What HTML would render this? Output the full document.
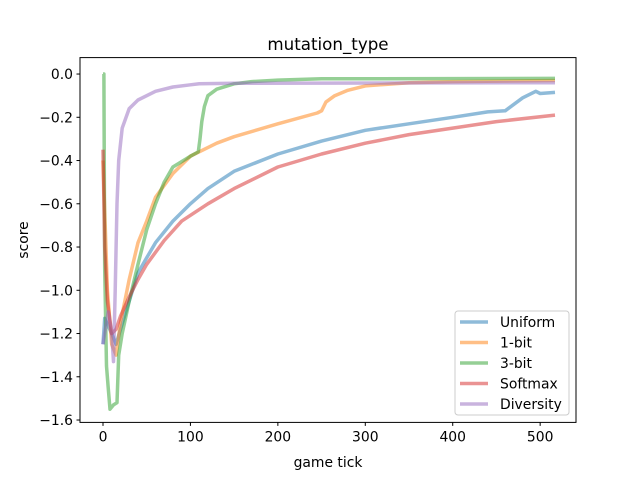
<!DOCTYPE html>
<html><head><meta charset="utf-8"><style>
body{margin:0;background:#fff}
text{font-family:"DejaVu Sans","Liberation Sans",sans-serif;fill:#000}
</style></head><body>
<svg id="chart" width="640" height="480">
<rect width="640" height="480" fill="#fff"/>
</svg>
<script>
const seriesNames=["Uniform","1-bit","3-bit","Softmax","Diversity"];
const xTicks=[0,100,200,300,400,500];
const yTicks=[0,-0.2,-0.4,-0.6,-0.8,-1.0,-1.2,-1.4,-1.6];
const uniformX=[0,2,10,15,20,30,40,50,60,80,100,120,150,200,250,300,350,400,440,460,480,495,500,517];
const uniformY=[-1.25,-1.13,-1.2,-1.25,-1.18,-1.05,-0.92,-0.85,-0.78,-0.68,-0.6,-0.53,-0.45,-0.37,-0.31,-0.26,-0.23,-0.2,-0.175,-0.17,-0.11,-0.08,-0.09,-0.085];
const oneBitX=[0,5,10,15,20,30,40,50,60,80,100,130,150,200,245,250,255,265,280,300,350,400,517];
const oneBitY=[-0.4,-1.0,-1.25,-1.3,-1.15,-0.95,-0.78,-0.68,-0.57,-0.46,-0.38,-0.32,-0.29,-0.23,-0.18,-0.17,-0.13,-0.1,-0.075,-0.055,-0.04,-0.035,-0.03];
const threeBitX=[0,1,2,4,6,8,12,16,18,22,30,40,50,60,70,80,100,109,111,113,116,120,130,150,170,200,250,517];
const threeBitY=[0,0,-0.9,-1.35,-1.45,-1.55,-1.53,-1.52,-1.3,-1.2,-1.05,-0.88,-0.72,-0.6,-0.5,-0.43,-0.38,-0.36,-0.3,-0.22,-0.15,-0.1,-0.07,-0.045,-0.035,-0.028,-0.022,-0.02];
const softmaxX=[0,2,5,10,15,20,30,40,50,70,90,120,150,200,250,300,350,400,450,517];
const softmaxY=[-0.35,-0.8,-1.05,-1.2,-1.18,-1.12,-1.03,-0.95,-0.88,-0.77,-0.68,-0.6,-0.53,-0.43,-0.37,-0.32,-0.28,-0.25,-0.22,-0.19];
const diversityX=[0,2,6,10,12,14,16,18,22,30,40,60,80,100,110,150,517];
const diversityY=[-1.25,-1.2,-1.1,-1.2,-1.33,-1.0,-0.6,-0.4,-0.25,-0.16,-0.12,-0.08,-0.06,-0.05,-0.045,-0.043,-0.04];

const svg=document.getElementById('chart');
const NS='http://www.w3.org/2000/svg';
const L=80,R=576,T=57.6,B=422.4;
const xmin=-26.3,xmax=541,ymin=-1.611,ymax=0.076;
const sx=v=>L+(v-xmin)/(xmax-xmin)*(R-L);
const sy=v=>B-(v-ymin)/(ymax-ymin)*(B-T);
function mk(tag,attrs,parent){const e=document.createElementNS(NS,tag);for(const k in attrs)e.setAttribute(k,attrs[k]);(parent||svg).appendChild(e);return e;}
const colors=["#1f77b4","#ff7f0e","#2ca02c","#d62728","#9467bd"];
const xs=[uniformX,oneBitX,threeBitX,softmaxX,diversityX];
const ys=[uniformY,oneBitY,threeBitY,softmaxY,diversityY];
const keys=["uniform","1-bit","3-bit","softmax","diversity"];
for(let s=0;s<5;s++){
  const d=xs[s].map((x,i)=>(i?'L':'M')+sx(x).toFixed(1)+','+sy(ys[s][i]).toFixed(1)).join('');
  const p=mk('path',{d:d,fill:'none',stroke:colors[s],'stroke-width':3.5,'stroke-opacity':0.5,'stroke-linejoin':'round'});
  
  
}
const ax=mk('rect',{x:L,y:T,width:R-L,height:B-T,fill:'none',stroke:'#000','stroke-width':1});


xTicks.forEach(v=>{
  const x=sx(v);
  mk('line',{x1:x,x2:x,y1:B,y2:B+3.5,stroke:'#000'});
  const t=mk('text',{x:x,y:B+19,'font-size':13.9,'text-anchor':'middle'});t.textContent=v;
  
  
});
yTicks.forEach(v=>{
  const y=sy(v);
  mk('line',{x1:L,x2:L-3.5,y1:y,y2:y,stroke:'#000'});
  const t=mk('text',{x:L-7,y:y+5,'font-size':13.9,'text-anchor':'end'});t.textContent=(v<0?'\u2212':'')+Math.abs(v).toFixed(1);
  
  
});
let t=mk('text',{x:328,y:50,'font-size':16.7,'text-anchor':'middle'});t.textContent='mutation_type';


t=mk('text',{x:328,y:467,'font-size':13.9,'text-anchor':'middle'});t.textContent='game tick';


t=mk('text',{x:28,y:240,'font-size':13.9,'text-anchor':'middle',transform:'rotate(-90 28 240)'});t.textContent='score';


const lg=mk('rect',{x:455,y:311,width:114,height:104,rx:3,fill:'#fff','fill-opacity':0.8,stroke:'#ccc'});


seriesNames.forEach((n,i)=>{
  const y=322+i*20.5;
  mk('line',{x1:460,x2:488,y1:y,y2:y,stroke:colors[i],'stroke-width':3.5,'stroke-opacity':0.5});
  const tt=mk('text',{x:500,y:y+5,'font-size':13.9});tt.textContent=n;
  
  
});
</script>
</body></html>
